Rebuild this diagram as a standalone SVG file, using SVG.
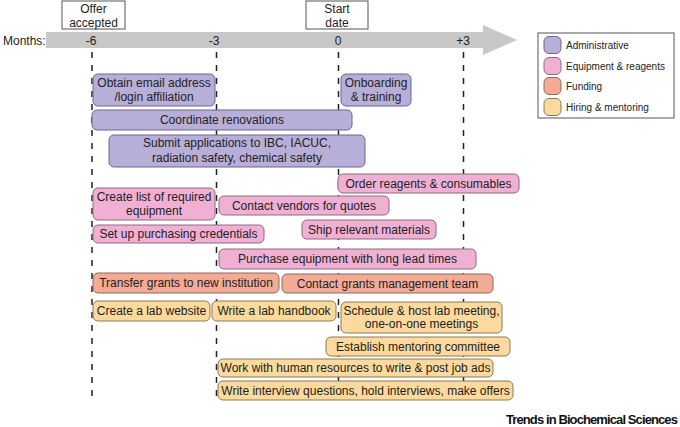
<svg xmlns="http://www.w3.org/2000/svg" width="680" height="427" viewBox="0 0 680 427">
<style>
text{font-family:"Liberation Sans",Arial,sans-serif;fill:#222}
.t{font-size:12px;text-anchor:middle}
.lg{font-size:10px}
.adm{fill:#b8afd9;stroke:#6e6490;stroke-width:1}
.eq{fill:#f0b0d4;stroke:#8e6a7e;stroke-width:1}
.fu{fill:#f3ab95;stroke:#8a6a60;stroke-width:1}
.hi{fill:#fcd99c;stroke:#8a7a5a;stroke-width:1}
.dash{stroke:#222;stroke-width:1.5;stroke-dasharray:6 7;fill:none}
.lbl{fill:#fff;stroke:#555;stroke-width:1}
</style>
<rect width="680" height="427" fill="#fff"/>
<g id="timeline">
<polygon points="46,32 483,32 483,25 517,40 483,55 483,48 46,48" fill="#c8c8c8"/>
<text x="3" y="45" style="font-size:12px">Months:</text>
<text class="t" x="91" y="45">-6</text>
<text class="t" x="214" y="45">-3</text>
<text class="t" x="338" y="45">0</text>
<text class="t" x="463" y="45">+3</text>
</g>
<g id="offer-accepted">
<rect class="lbl" x="62" y="1" width="63" height="28"/>
<text class="t" x="93.5" y="13">Offer</text>
<text class="t" x="93.5" y="26.5">accepted</text>
</g>
<g id="start-date">
<rect class="lbl" x="306" y="1" width="62" height="28"/>
<text class="t" x="337" y="13">Start</text>
<text class="t" x="337" y="26.5">date</text>
</g>
<g id="connectors">
<line class="dash" x1="92" y1="52" x2="92" y2="402"/>
<line class="dash" x1="216.5" y1="52" x2="216.5" y2="402"/>
<line class="dash" x1="338.5" y1="52" x2="338.5" y2="402"/>
<line class="dash" x1="463.5" y1="52" x2="463.5" y2="402"/>
</g>
<g id="legend">
<rect x="538" y="33" width="136" height="85" fill="#fff" stroke="#555" stroke-width="1"/>
<rect class="adm" x="544" y="36.5" width="17" height="17" rx="5"/>
<text class="lg" x="566" y="49">Administrative</text>
<rect class="eq" x="544" y="57.5" width="17" height="17" rx="5"/>
<text class="lg" x="566" y="70">Equipment &amp; reagents</text>
<rect class="fu" x="544" y="77.5" width="17" height="17" rx="5"/>
<text class="lg" x="566" y="90">Funding</text>
<rect class="hi" x="544" y="98.5" width="17" height="17" rx="5"/>
<text class="lg" x="566" y="111">Hiring &amp; mentoring</text>
</g>
<g id="obtain-email">
<rect class="adm" x="93" y="74" width="122" height="32" rx="5"/>
<text class="t" x="154" y="87">Obtain email address</text>
<text class="t" x="154" y="101">/login affiliation</text>
</g>
<g id="onboarding">
<rect class="adm" x="341" y="74" width="70" height="32" rx="5"/>
<text class="t" x="376" y="87">Onboarding</text>
<text class="t" x="376" y="101">&amp; training</text>
</g>
<g id="coordinate-renovations">
<rect class="adm" x="92" y="110" width="260" height="20" rx="5"/>
<text class="t" x="222" y="124">Coordinate renovations</text>
</g>
<g id="submit-applications">
<rect class="adm" x="109" y="135" width="256" height="32" rx="5"/>
<text class="t" x="237" y="147">Submit applications to IBC, IACUC,</text>
<text class="t" x="237" y="162">radiation safety, chemical safety</text>
</g>
<g id="order-reagents">
<rect class="eq" x="338" y="174" width="181" height="19" rx="5"/>
<text class="t" x="428.5" y="188">Order reagents &amp; consumables</text>
</g>
<g id="create-list">
<rect class="eq" x="93" y="188" width="122" height="32" rx="5"/>
<text class="t" x="154" y="201">Create list of required</text>
<text class="t" x="154" y="214.5">equipment</text>
</g>
<g id="contact-vendors">
<rect class="eq" x="219" y="196" width="170" height="19" rx="5"/>
<text class="t" x="304" y="210">Contact vendors for quotes</text>
</g>
<g id="purchasing-credentials">
<rect class="eq" x="93" y="225" width="171" height="18" rx="5"/>
<text class="t" x="178.5" y="238">Set up purchasing credentials</text>
</g>
<g id="ship-materials">
<rect class="eq" x="302" y="220" width="134" height="19" rx="5"/>
<text class="t" x="369" y="233.5">Ship relevant materials</text>
</g>
<g id="purchase-equipment">
<rect class="eq" x="219" y="249" width="257" height="20" rx="5"/>
<text class="t" x="347.5" y="263">Purchase equipment with long lead times</text>
</g>
<g id="transfer-grants">
<rect class="fu" x="93" y="273" width="186" height="20" rx="5"/>
<text class="t" x="186" y="287">Transfer grants to new institution</text>
</g>
<g id="contact-grants">
<rect class="fu" x="282" y="274" width="211" height="19" rx="5"/>
<text class="t" x="387.5" y="287.5">Contact grants management team</text>
</g>
<g id="lab-website">
<rect class="hi" x="93" y="301" width="117" height="20" rx="5"/>
<text class="t" x="151.5" y="315">Create a lab website</text>
</g>
<g id="lab-handbook">
<rect class="hi" x="212" y="301" width="124" height="20" rx="5"/>
<text class="t" x="274" y="315">Write a lab handbook</text>
</g>
<g id="lab-meeting">
<rect class="hi" x="341" y="302" width="161" height="31" rx="5"/>
<text class="t" x="421.5" y="315">Schedule &amp; host lab meeting,</text>
<text class="t" x="421.5" y="327.5">one-on-one meetings</text>
</g>
<g id="mentoring-committee">
<rect class="hi" x="326" y="337" width="184" height="19" rx="5"/>
<text class="t" x="418" y="350.5">Establish mentoring committee</text>
</g>
<g id="job-ads">
<rect class="hi" x="218" y="359" width="275" height="18" rx="5"/>
<text class="t" x="355.5" y="372">Work with human resources to write &amp; post job ads</text>
</g>
<g id="interviews">
<rect class="hi" x="218" y="381" width="295" height="19" rx="5"/>
<text class="t" x="365.5" y="394.5">Write interview questions, hold interviews, make offers</text>
</g>
<text x="677" y="423.5" style="font-size:13px;font-weight:bold;text-anchor:end;letter-spacing:-0.9px;fill:#111">Trends in Biochemical Sciences</text>
</svg>
